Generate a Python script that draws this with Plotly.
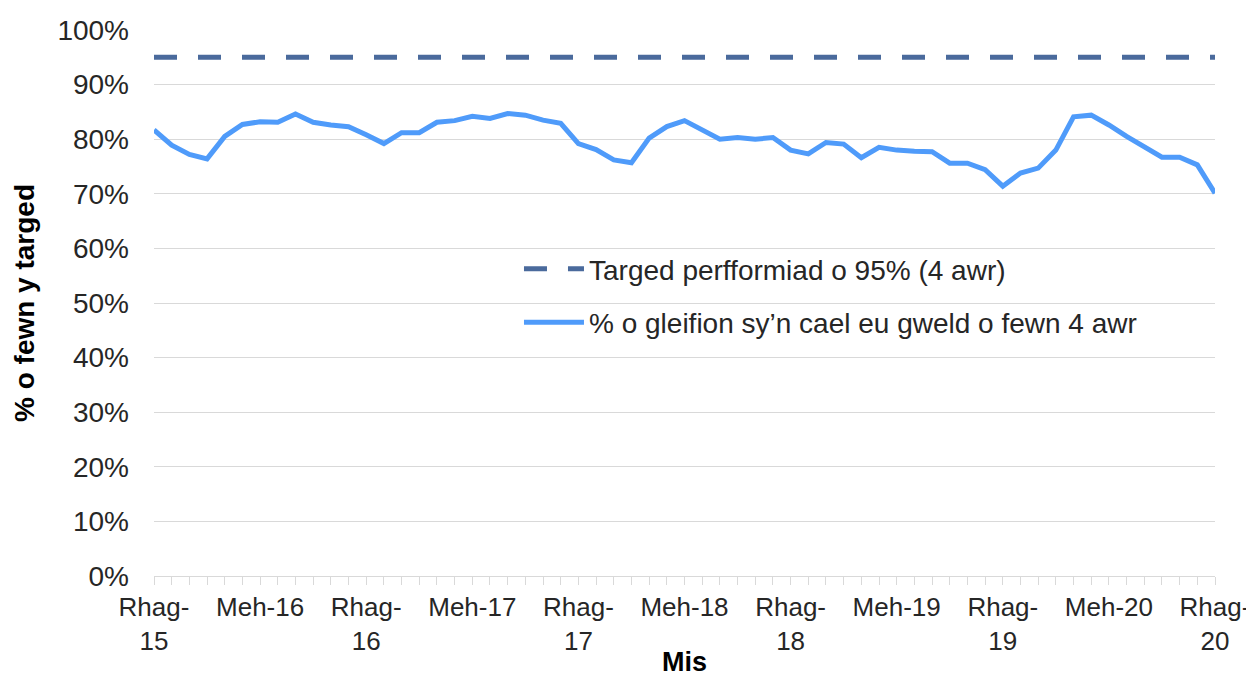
import plotly.graph_objects as go

months = ["Rhag-15", "Ion-16", "Chwef-16", "Maw-16", "Ebr-16", "Mai-16", "Meh-16", "Gorff-16", "Awst-16", "Medi-16", "Hyd-16", "Tach-16",
          "Rhag-16", "Ion-17", "Chwef-17", "Maw-17", "Ebr-17", "Mai-17", "Meh-17", "Gorff-17", "Awst-17", "Medi-17", "Hyd-17", "Tach-17",
          "Rhag-17", "Ion-18", "Chwef-18", "Maw-18", "Ebr-18", "Mai-18", "Meh-18", "Gorff-18", "Awst-18", "Medi-18", "Hyd-18", "Tach-18",
          "Rhag-18", "Ion-19", "Chwef-19", "Maw-19", "Ebr-19", "Mai-19", "Meh-19", "Gorff-19", "Awst-19", "Medi-19", "Hyd-19", "Tach-19",
          "Rhag-19", "Ion-20", "Chwef-20", "Maw-20", "Ebr-20", "Mai-20", "Meh-20", "Gorff-20", "Awst-20", "Medi-20", "Hyd-20", "Tach-20",
          "Rhag-20"]

within_4h = [81.7, 78.9, 77.2, 76.4, 80.5, 82.7, 83.2, 83.1, 84.6, 83.1, 82.6, 82.3,
             80.8, 79.2, 81.2, 81.2, 83.1, 83.4, 84.2, 83.8, 84.7, 84.4, 83.5, 82.9,
             79.2, 78.1, 76.2, 75.7, 80.2, 82.3, 83.4, 81.6, 80.0, 80.3, 80.0, 80.3,
             78.0, 77.3, 79.4, 79.1, 76.6, 78.5, 78.0, 77.8, 77.7, 75.6, 75.6, 74.4,
             71.4, 73.8, 74.7, 78.0, 84.1, 84.4, 82.6, 80.5, 78.5, 76.7, 76.7, 75.3,
             70.1]

target = [95] * len(months)

tick_idx = list(range(0, 61, 6))
tick_text = ["Rhag-<br>15", "Meh-16", "Rhag-<br>16", "Meh-17", "Rhag-<br>17", "Meh-18",
             "Rhag-<br>18", "Meh-19", "Rhag-<br>19", "Meh-20", "Rhag-<br>20"]

x = list(range(len(months)))
font = "Liberation Sans, Arial, sans-serif"
text_col = "#262626"

fig = go.Figure()
fig.add_trace(go.Scatter(
    x=x, y=target, mode="lines", name="Targed perfformiad o 95% (4 awr)",
    line=dict(color="#4A6A9C", width=5, dash="23px,21px"),
    customdata=months, legendgroup="a",
))
fig.add_trace(go.Scatter(
    x=x, y=within_4h, mode="lines", name="% o gleifion sy\u2019n cael eu gweld o fewn 4 awr",
    line=dict(color="#4F9BFA", width=5),
    customdata=months, legendgroup="b",
))

fig.update_layout(
    width=1246, height=672,
    margin=dict(l=146, r=39, t=22, b=104, autoexpand=False),
    plot_bgcolor="white", paper_bgcolor="white",
    font=dict(family=font, size=26, color=text_col),
    showlegend=True,
    legend=dict(x=0.344, y=0.608, xanchor="left", yanchor="top",
                bgcolor="rgba(0,0,0,0)", font=dict(size=28, color=text_col),
                traceorder="grouped", tracegroupgap=14, itemwidth=60),
    xaxis=dict(
        range=[0, 60], tickmode="array", tickvals=tick_idx, ticktext=tick_text,
        ticks="outside", ticklen=8, tickcolor="#D9D9D9", tickwidth=1,
        showline=True, linecolor="#D9D9D9", linewidth=1,
        showgrid=False, zeroline=False, automargin=False,
        tickfont=dict(size=26, color=text_col),
        minor=dict(tickmode="linear", tick0=0, dtick=1, ticks="outside", ticklen=8,
                   tickcolor="#D9D9D9", tickwidth=1, showgrid=False),
    ),
    yaxis=dict(
        range=[0, 100], dtick=10, ticksuffix="%",
        showgrid=True, gridcolor="#D9D9D9", gridwidth=1,
        zeroline=False, showline=False, automargin=False,
        tickfont=dict(size=28, color=text_col),
        ticklabelstandoff=24,
    ),
    annotations=[
        dict(text="<b>Mis</b>", xref="paper", yref="paper", x=0.5, y=0,
             xanchor="center", yanchor="middle", yshift=-86, showarrow=False,
             font=dict(size=27, color="#000000")),
        dict(text="<b>% o fewn y targed</b>", xref="paper", yref="paper", x=0, y=0.5,
             xanchor="center", yanchor="middle", xshift=-130, textangle=-90, showarrow=False,
             font=dict(size=28, color="#000000")),
    ],
)

fig.write_html("out.html")
